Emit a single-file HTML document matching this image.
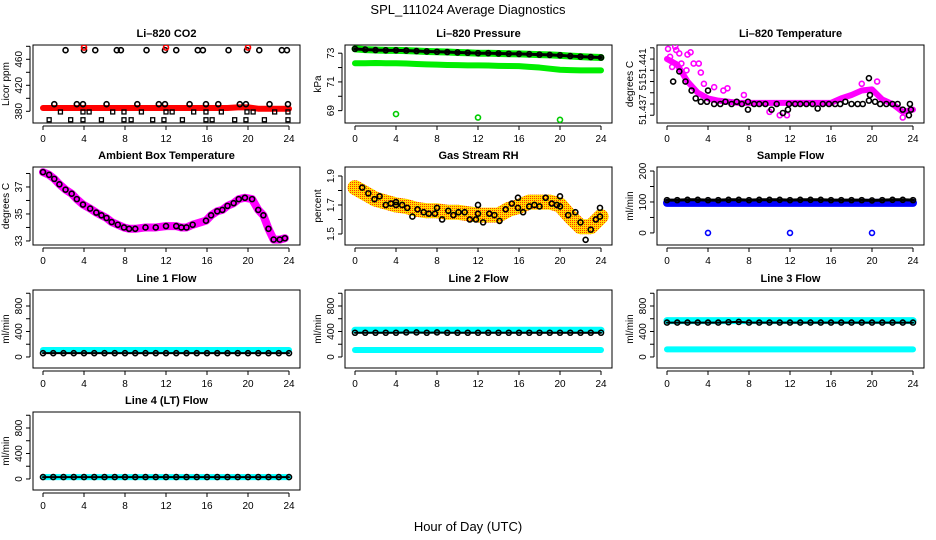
<!DOCTYPE html>
<html><head><meta charset="utf-8"><style>
html,body{margin:0;padding:0;background:#fff}
svg{display:block;font-family:"Liberation Sans",sans-serif}
</style></head><body>
<svg id="c" width="936" height="540" viewBox="0 0 936 540">
<defs>
<pattern id="chk" width="2" height="2" patternUnits="userSpaceOnUse"><rect width="2" height="2" fill="#ffdd00"/><rect width="1" height="1" fill="#ff3300"/></pattern>
</defs>
<text x="468" y="14" text-anchor="middle" font-size="13">SPL_111024  Average Diagnostics</text>
<text x="468" y="531" text-anchor="middle" font-size="13">Hour of Day (UTC)</text>
</svg>
<script>
// ---- data arrays ----
const hours = [0,1,2,3,4,5,6,7,8,9,10,11,12,13,14,15,16,17,18,19,20,21,22,23,24];
const xTicks = [0,4,8,12,16,20,24];
// CO2
const co2Band = [385,385,385,385,385,385,385,385,385,385,385,385,385,385,385,385,385,385,385,386,386,384,384,384,384];
const co2TopX = [2.2,4,5.1,7.2,7.6,10.1,11.9,13,15.1,15.6,18.1,19.9,21.1,23.3,23.8];
const co2TopY = [474,474,474,474,474,474,474,474,474,474,474,474,474,474,474];
const co2RedX = [4,12,20];
const co2RedY = [478,478,478];
const co2MidX = [1.1,3.3,3.9,6.2,9.2,11.3,11.9,14.3,15.9,17.1,19.2,19.8,22.1,23.9];
const co2MidY = [391,391,391,391,391,391,391,391,391,391,391,391,391,391];
const co2LowX = [1.7,3.9,4.5,6.8,7.9,9.6,12,12.6,14.7,15.9,17.4,19.9,20.5,22.6,23.9];
const co2LowY = [379,379,379,379,379,379,379,379,379,379,379,379,379,379,379];
const co2BotX = [0.6,2.7,3.9,5.7,7.9,8.6,10.7,11.8,13.6,15.9,16.5,18.7,19.8,21.6,23.9];
const co2BotY = [367,367,367,367,367,367,367,367,367,367,367,367,367,367,367];
// Pressure
const presUpper = [73.3,73.25,73.22,73.2,73.2,73.18,73.15,73.12,73.1,73.08,73.05,73.03,73.0,73.0,72.98,72.96,72.95,72.93,72.9,72.88,72.85,72.8,72.76,72.73,72.7];
const presLower = [72.3,72.3,72.32,72.3,72.3,72.28,72.25,72.22,72.2,72.18,72.17,72.15,72.15,72.14,72.12,72.11,72.1,72.05,72.0,71.92,71.85,71.82,71.8,71.8,71.8];
const presOutX = [4,12,20];
const presOutY = [68.76,68.52,68.36];
// Li-820 temperature (axis units)
const tempBand = [5,4.5,3,2,1.5,1.3,1.2,1.1,1.1,1.1,1.1,1.1,1.1,1.1,1.1,1.1,1.1,1.5,1.8,2.2,2.3,1.4,1.0,0.3,0.5];
const tempMagX = [0.1,0.3,0.5,0.8,0.9,1.2,1.4,2,2.3,1.9,2.6,3.1,3.3,3.6,4.6,5.5,5.9,7.5,10,11,11.7,19,20.5,23];
const tempMagY = [5.9,5.2,4.3,6.1,5.8,5.5,4.6,5.4,5.6,4.0,4.6,4.6,3.8,2.8,2.5,2.2,2.4,1.8,0.3,0.0,0.0,2.8,3.0,-0.2];
const tempBlkX = [0.6,1.2,1.8,2.4,2.8,3.3,3.9,4,4.6,5.2,5.7,6.3,6.8,7.3,7.9,7.9,8.5,9,9.6,10.2,10.7,11.3,11.8,11.9,12.5,13,13.6,14.2,14.7,15.2,15.8,16.4,16.9,17.4,18,18.6,19.1,19.7,19.7,19.8,20.3,20.8,21.4,22,22.5,23,23.6,23.7,23.8];
const tempBlkY = [3.0,3.9,3.0,2.2,1.5,1.2,1.2,2.2,1.0,1.0,1.2,1.0,1.2,1.0,0.5,1.2,1.0,1.0,1.0,0.5,1.0,0.2,0.5,1.0,1.0,1.0,1.0,1.0,0.6,1.0,1.0,1.0,1.0,1.2,1.0,1.0,1.0,1.3,3.3,1.8,1.2,1.0,1.0,1.0,1.0,0.5,0.0,1.0,0.5];
const tempTickVals = [0,1,2,3,4,5,6];
const tempLabelVals = [0.5,2.7,4.6];
const tempLabelText = ['51.437','51','51.441'];
// Ambient box temperature
const ambX = [0,0.6,1.1,1.6,2.2,2.8,3.3,3.9,4.6,5.2,5.7,6.2,6.7,7.3,7.9,8.4,9,10,11,12,13,13.5,14,14.6,15.9,16.4,17,17.5,18,18.6,19.1,19.7,20.4,21,21.5,22,22.5,23.1,23.6];
const ambY = [38.1,37.9,37.6,37.2,36.8,36.5,36.1,35.7,35.4,35.1,34.9,34.7,34.4,34.2,34.0,33.9,33.9,34.0,34.0,34.1,34.1,34.0,34.0,34.2,34.5,34.9,35.2,35.3,35.6,35.8,36.1,36.2,36.1,35.3,34.9,33.9,33.1,33.1,33.2];
// Gas stream RH
const rhBand = [1.82,1.78,1.74,1.72,1.70,1.69,1.67,1.66,1.66,1.65,1.65,1.64,1.63,1.63,1.63,1.67,1.69,1.72,1.72,1.72,1.70,1.62,1.55,1.55,1.62];
const rhX = [0.7,1.3,1.9,2.4,3.0,3.5,4,4,4.6,5.1,5.6,6.1,6.7,7.2,7.8,8,8.5,9.1,9.6,10.1,10.7,11.2,11.8,12,12,12.5,13.1,13.6,14.1,14.7,15.3,15.9,15.9,16.4,17,17.5,18,18.6,19.2,19.7,20,20,20.8,21.5,22,22.5,23,23.5,23.9,23.9];
const rhY = [1.82,1.78,1.74,1.76,1.70,1.71,1.72,1.70,1.70,1.68,1.62,1.67,1.65,1.64,1.64,1.68,1.60,1.66,1.63,1.65,1.65,1.60,1.60,1.70,1.64,1.58,1.64,1.63,1.59,1.67,1.71,1.75,1.68,1.65,1.69,1.70,1.69,1.75,1.71,1.70,1.76,1.69,1.63,1.65,1.58,1.46,1.53,1.60,1.62,1.68];
// Sample flow
const sampBlue = [97,97,97,97,97,97,97,97,97,97,97,97,97,97,97,97,97,97,97,97,97,97,97,97,97];
const sampBlack = [106,106,107,107,106,106,107,107,106,107,107,107,106,107,107,107,106,106,106,106,105,106,107,107,106];
const sampOutX = [4,12,20];
const sampOutY = [0,0,0];
// Line flows
const l1Cyan = [110,110,110,110,110,110,110,110,110,110,110,110,110,110,110,110,110,110,110,110,110,110,110,110,110];
const l1Black = [60,60,60,60,60,60,60,60,60,60,60,60,60,60,60,60,60,60,60,60,60,60,60,60,60];
const l2CyanHi = [420,420,420,420,420,420,420,420,420,420,420,420,420,420,420,420,420,420,420,420,420,420,420,420,420];
const l2CyanLo = [110,110,110,110,110,110,110,110,110,110,110,110,110,110,110,110,110,110,110,110,110,110,110,110,110];
const l2Black = [380,380,380,380,380,385,385,380,385,380,380,380,380,380,380,380,380,380,380,380,380,380,380,380,380];
const l3CyanHi = [570,570,570,570,570,570,570,570,570,570,570,570,570,570,570,570,570,570,570,570,570,570,570,570,570];
const l3CyanLo = [120,120,120,120,120,120,120,120,120,120,120,120,120,120,120,120,120,120,120,120,120,120,120,120,120];
const l3Black = [540,540,540,540,540,540,545,550,540,540,540,540,540,540,540,540,540,540,540,540,540,540,540,540,540];
const l4Cyan = [30,30,30,30,30,30,30,30,30,30,30,30,30,30,30,30,30,30,30,30,30,30,30,30,30];
const l4Black = [30,30,30,30,30,30,30,30,30,30,30,30,30,30,30,30,30,30,30,30,30,30,30,30,30];

// ---- drawing ----
const svg = document.getElementById('c');
const NS = 'http://www.w3.org/2000/svg';
const colL = [33,345,657], rowT = [45,167,290,412], W = 267, H = 78;
function mk(tag, attrs, parent){ const e = document.createElementNS(NS, tag); for (const k in attrs) e.setAttribute(k, attrs[k]); (parent||svg).appendChild(e); return e; }

function panel(col,row,name,title,ylab,ymin,ymax,ticks,tickLabels,labelVals){
  const L = colL[col], T = rowT[row];
  const g = mk('g',{});
  
  
  const xs = h => L + 10 + h * (246/24);
  const ys = v => T + H - (v - ymin) / (ymax - ymin) * H;
  const box = mk('rect',{x:L,y:T,width:W,height:H,fill:'none',stroke:'#000','stroke-width':1},g);
  
  
  const t = mk('text',{x:L+W/2,y:T-8,'text-anchor':'middle','font-size':11,'font-weight':'bold'},g);
  t.textContent = title;
  
  
  const xa = mk('g',{},g);
  
  
  mk('line',{x1:xs(0),x2:xs(24),y1:T+H+3,y2:T+H+3,stroke:'#000'},xa);
  xTicks.forEach(v=>{
    mk('line',{x1:xs(v),x2:xs(v),y1:T+H+3,y2:T+H+7,stroke:'#000'},xa);
    const tl = mk('text',{x:xs(v),y:T+H+19,'text-anchor':'middle','font-size':10},xa);
    tl.textContent = v;
  });
  const ya = mk('g',{},g);
  
  
  mk('line',{x1:L-3,x2:L-3,y1:ys(ticks[0]),y2:ys(ticks[ticks.length-1]),stroke:'#000'},ya);
  ticks.forEach(v=>{ mk('line',{x1:L-3,x2:L-7,y1:ys(v),y2:ys(v),stroke:'#000'},ya); });
  const lv = labelVals || ticks;
  lv.forEach((v,i)=>{
    if (tickLabels[i]) {
      const tl = mk('text',{x:0,y:0,'text-anchor':'middle','font-size':10,transform:`translate(${L-11},${ys(v)}) rotate(-90)`},ya);
      tl.textContent = tickLabels[i];
    }
  });
  const yl = mk('text',{x:0,y:0,'text-anchor':'middle','font-size':10,transform:`translate(${L-24},${T+H/2}) rotate(-90)`},g);
  yl.textContent = ylab;
  
  
  const clip = 'clip' + col + row;
  const cp = mk('clipPath',{id:clip},g); mk('rect',{x:L,y:T,width:W,height:H},cp);
  const plot = mk('g',{'clip-path':`url(#${clip})`},g);
  return {xs, ys, plot};
}
function band(p, xsArr, ysArr, color, width, name){
  const pts = xsArr.map((x,i)=>p.xs(x)+','+p.ys(ysArr[i])).join(' ');
  const e = mk('polyline',{points:pts,fill:'none',stroke:color,'stroke-width':width,'stroke-linejoin':'round','stroke-linecap':'round'},p.plot);
  
  
}
function pts(p, xsArr, ysArr, color, r, name, sq){
  const g = mk('g',{},p.plot);
  
  
  xsArr.forEach((x,i)=>{
    if (sq) mk('rect',{x:p.xs(x)-2,y:p.ys(ysArr[i])-2,width:4,height:4,fill:'none',stroke:color,'stroke-width':1.3},g);
    else mk('circle',{cx:p.xs(x),cy:p.ys(ysArr[i]),r:r,fill:'none',stroke:color,'stroke-width':1.6},g);
  });
}

let p = panel(0,0,'co2','Li\u2013820 CO2','Licor ppm',362,482,[380,400,420,440,460,480],['380','','420','','460','']);
band(p,hours,co2Band,'#ff0000',6,'co2-red-band');
pts(p,co2TopX,co2TopY,'#000',2.5,'co2-high-points');
pts(p,co2RedX,co2RedY,'#ff0000',2.5,'co2-red-points');
pts(p,co2MidX,co2MidY,'#000',2.5,'co2-mid-points');
pts(p,co2LowX,co2LowY,'#000',2,'co2-low-points',true);
pts(p,co2BotX,co2BotY,'#000',2,'co2-bottom-points',true);

p = panel(1,0,'pressure','Li\u2013820 Pressure','kPa',68.14,73.57,[69,70,71,72,73],['69','','71','','73']);
band(p,hours,presLower,'#00ee00',6,'pressure-lower-band');
band(p,hours,presUpper,'#00ee00',7,'pressure-upper-band');
band(p,hours,presUpper,'#000',3,'pressure-black-band');
pts(p,hours,presUpper,'#000',2.5,'pressure-points');
pts(p,presOutX,presOutY,'#00cc00',2.5,'pressure-outliers');

p = panel(2,0,'li820-temp','Li\u2013820 Temperature','degrees C',-0.69,6.25,tempTickVals,tempLabelText,tempLabelVals);
band(p,hours,tempBand,'#ff00ff',6,'temp-magenta-band');
pts(p,tempMagX,tempMagY,'#ff00ff',2.5,'temp-magenta-points');
pts(p,tempBlkX,tempBlkY,'#000',2.5,'temp-black-points');

p = panel(0,1,'ambient','Ambient Box Temperature','degrees C',32.7,38.48,[33,34,35,36,37,38],['33','','35','','37','']);
band(p,ambX,ambY,'#ff00ff',8,'ambient-magenta-band');
pts(p,ambX,ambY,'#000',2.5,'ambient-points');

p = panel(1,1,'rh','Gas Stream RH','percent',1.424,1.962,[1.5,1.6,1.7,1.8,1.9],['1.5','','1.7','','1.9']);
band(p,hours,rhBand,'url(#chk)',15,'rh-band');
pts(p,rhX,rhY,'#000',2.5,'rh-points');

p = panel(2,1,'sample-flow','Sample Flow','ml/min',-39,213,[0,50,100,150,200],['0','','100','','200']);
band(p,hours,sampBlue,'#0000ff',8,'sample-blue-band');
band(p,hours,sampBlack,'#000',3,'sample-black-band');
pts(p,hours,sampBlack,'#000',2.5,'sample-points');
pts(p,sampOutX,sampOutY,'#0000ff',2.5,'sample-outliers');

const fT=[0,200,400,600,800,1000], fL=['0','','400','','800',''];
p = panel(0,2,'line1','Line 1 Flow','ml/min',-173,1051,fT,fL);
band(p,hours,l1Cyan,'#00ffff',6,'line1-cyan-band');
band(p,hours,l1Black,'#000',2,'line1-black-band');
pts(p,hours,l1Black,'#000',2.5,'line1-points');
p = panel(1,2,'line2','Line 2 Flow','ml/min',-173,1051,fT,fL);
band(p,hours,l2CyanHi,'#00ffff',7,'line2-cyan-high');
band(p,hours,l2CyanLo,'#00ffff',6,'line2-cyan-low');
band(p,hours,l2Black,'#000',2,'line2-black-band');
pts(p,hours,l2Black,'#000',2.5,'line2-points');
p = panel(2,2,'line3','Line 3 Flow','ml/min',-173,1051,fT,fL);
band(p,hours,l3CyanHi,'#00ffff',7,'line3-cyan-high');
band(p,hours,l3CyanLo,'#00ffff',6,'line3-cyan-low');
band(p,hours,l3Black,'#000',2,'line3-black-band');
pts(p,hours,l3Black,'#000',2.5,'line3-points');
p = panel(0,3,'line4','Line 4 (LT) Flow','ml/min',-173,1051,fT,fL);
band(p,hours,l4Cyan,'#00ffff',6,'line4-cyan-band');
band(p,hours,l4Black,'#000',2,'line4-black-band');
pts(p,hours,l4Black,'#000',2.5,'line4-points');
</script>
</body></html>
